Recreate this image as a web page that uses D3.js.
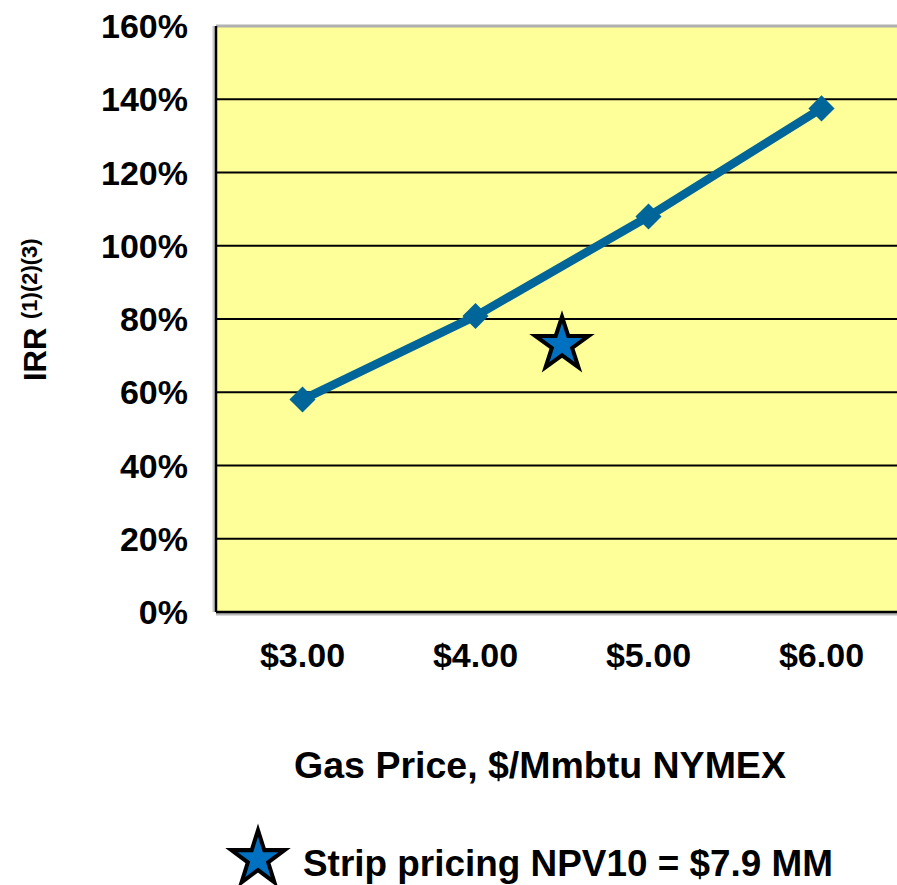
<!DOCTYPE html>
<html>
<head>
<meta charset="utf-8">
<script src="https://cdn.jsdelivr.net/npm/d3@7"></script>
<style>
  body { margin: 0; background: #fff; }
  text { font-family: "Liberation Sans", Arial, sans-serif; font-weight: bold; fill: #000; }
</style>
</head>
<body>
<svg id="chart"></svg>
<script>
// Data
const prices = [3, 4, 5, 6];
const irr = [0.58, 0.808, 1.08, 1.375];
const yTicks = [0, 0.2, 0.4, 0.6, 0.8, 1.0, 1.2, 1.4, 1.6];
const stripPrice = 4.5;
const stripIrr = 0.73;
const legendLabel = "Strip pricing NPV10 = $7.9 MM";

const width = 897, height = 885;
const margin = { top: 26, left: 216, bottom: 273 };
const plotRight = 908;
const plotBottom = height - margin.bottom;

const svg = d3.select("#chart").attr("width", width).attr("height", height);

const x = d3.scaleLinear().domain([2.5, 6.5]).range([margin.left, plotRight]);
const y = d3.scaleLinear().domain([0, 1.6]).range([plotBottom, margin.top]);

// Plot background
svg.append("rect")
  .attr("x", margin.left)
  .attr("y", margin.top)
  .attr("width", plotRight - margin.left)
  .attr("height", plotBottom - margin.top)
  .attr("fill", "#ffff99");

// top border (grey)
svg.append("line")
  .attr("x1", margin.left).attr("x2", plotRight)
  .attr("y1", margin.top).attr("y2", margin.top)
  .attr("stroke", "#b0b0b0").attr("stroke-width", 3);

// Gridlines
svg.selectAll(".grid")
  .data(yTicks.filter(d => d > 0 && d < 1.6))
  .enter()
  .append("line")
  .attr("class", "grid")
  .attr("x1", margin.left).attr("x2", plotRight)
  .attr("y1", d => y(d)).attr("y2", d => y(d))
  .attr("stroke", "#000").attr("stroke-width", 2);

// Axis lines with grey shadow
svg.append("line")
  .attr("x1", margin.left).attr("x2", plotRight)
  .attr("y1", plotBottom + 2).attr("y2", plotBottom + 2)
  .attr("stroke", "#b8b8b8").attr("stroke-width", 3);
svg.append("line")
  .attr("x1", margin.left - 2).attr("x2", margin.left - 2)
  .attr("y1", margin.top).attr("y2", plotBottom)
  .attr("stroke", "#c8c8c8").attr("stroke-width", 3);
svg.append("line")
  .attr("x1", margin.left).attr("x2", plotRight)
  .attr("y1", plotBottom).attr("y2", plotBottom)
  .attr("stroke", "#000").attr("stroke-width", 2.5);
svg.append("line")
  .attr("x1", margin.left).attr("x2", margin.left)
  .attr("y1", margin.top).attr("y2", plotBottom)
  .attr("stroke", "#000").attr("stroke-width", 2.5);

// Y tick labels
svg.selectAll(".ylab")
  .data(yTicks)
  .enter()
  .append("text")
  .attr("class", "ylab")
  .attr("x", 188)
  .attr("y", d => y(d) + 12)
  .attr("text-anchor", "end")
  .style("font-size", "34px")
  .text(d => d3.format(".0%")(d));

// X tick labels
svg.selectAll(".xlab")
  .data(prices)
  .enter()
  .append("text")
  .attr("class", "xlab")
  .attr("x", d => x(d))
  .attr("y", 667)
  .attr("text-anchor", "middle")
  .style("font-size", "34px")
  .text(d => "$" + d3.format(".2f")(d));

// Axis titles
svg.append("text")
  .attr("x", 540)
  .attr("y", 778)
  .attr("text-anchor", "middle")
  .style("font-size", "37.5px")
  .text("Gas Price, $/Mmbtu NYMEX");

const yTitle = svg.append("text")
  .attr("transform", "translate(46,381) rotate(-90)")
  .style("font-size", "31px");
yTitle.append("tspan").text("IRR ");
yTitle.append("tspan")
  .attr("dy", -9)
  .style("font-size", "22px")
  .text("(1)(2)(3)");

// Series line
const line = d3.line()
  .x((d, i) => x(prices[i]))
  .y(d => y(d));

svg.append("path")
  .datum(irr)
  .attr("d", line)
  .attr("fill", "none")
  .attr("stroke", "#006699")
  .attr("stroke-width", 8.5)
  .attr("stroke-linejoin", "round");

svg.selectAll(".marker")
  .data(irr)
  .enter()
  .append("path")
  .attr("class", "marker")
  .attr("d", d3.symbol(d3.symbolSquare, 340))
  .attr("transform", (d, i) => `translate(${x(prices[i])},${y(d)}) rotate(45)`)
  .attr("fill", "#006699");

// Strip pricing star
const starSize = 28 * 28 / 0.8908130915292852;
svg.append("path")
  .attr("d", d3.symbol(d3.symbolStar, starSize))
  .attr("transform", `translate(${x(stripPrice)},${y(stripIrr)})`)
  .attr("fill", "#0070c0")
  .attr("stroke", "#000")
  .attr("stroke-width", 4)
  .attr("stroke-linejoin", "miter");

// Legend
svg.append("path")
  .attr("d", d3.symbol(d3.symbolStar, starSize))
  .attr("transform", "translate(258,859) scale(1,1.03)")
  .attr("fill", "#0070c0")
  .attr("stroke", "#000")
  .attr("stroke-width", 4);

svg.append("text")
  .attr("x", 303)
  .attr("y", 876)
  .style("font-size", "37px")
  .attr("textLength", 530)
  .attr("lengthAdjust", "spacingAndGlyphs")
  .text(legendLabel);
</script>
</body>
</html>
